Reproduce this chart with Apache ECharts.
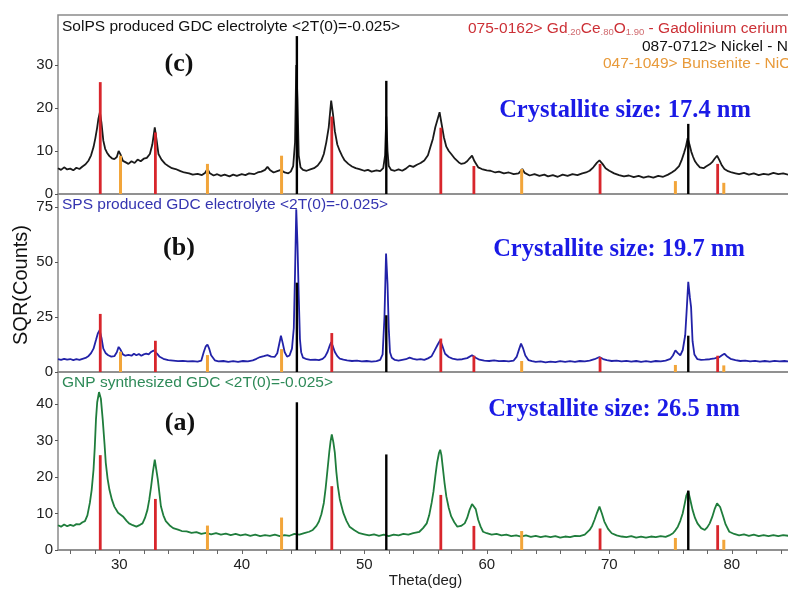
<!DOCTYPE html>
<html>
<head>
<meta charset="utf-8">
<script src="https://cdn.jsdelivr.net/npm/echarts@6/dist/echarts.min.js"></script>
<style>html,body{margin:0;padding:0;background:#fff}#chart{width:788px;height:589px}</style>
</head>
<body>
<div id="chart"></div>
<script>
// ---------- DATA ----------
const xTickLabels = [30, 40, 50, 60, 70, 80];
const xMinorTicks = [26,28,30,32,34,36,38,40,42,44,46,48,50,52,54,56,58,60,62,64,66,68,70,72,74,76,78,80,82,84];
const yTicksC = [0, 10, 20, 30];
const yTicksB = [0, 25, 50, 75];
const yTicksA = [0, 10, 20, 30, 40];

// (c) SolPS produced GDC electrolyte  [theta, sqrt(counts)]
const traceC = [
[25.0,6.0],[25.25,5.6],[25.5,6.2],[25.75,5.7],[26.0,5.9],[26.25,5.5],[26.5,6.1],[26.75,5.8],[27.0,6.4],[27.25,6.9],[27.5,7.8],[27.7,9.0],[27.9,10.9],[28.05,13.0],[28.2,15.5],[28.3,17.5],[28.42,19.0],[28.55,16.5],[28.7,12.4],[28.85,10.5],[29.0,9.6],[29.2,8.8],[29.4,8.3],[29.6,8.1],[29.8,8.6],[29.95,10.0],[30.1,9.2],[30.3,7.7],[30.5,7.4],[30.75,7.0],[31.0,7.6],[31.25,7.2],[31.5,8.0],[31.75,7.6],[32.0,8.2],[32.25,8.4],[32.5,9.3],[32.7,11.5],[32.9,15.5],[33.05,12.5],[33.2,9.3],[33.45,8.0],[33.75,7.0],[34.0,6.5],[34.3,6.0],[34.6,5.8],[35.0,5.3],[35.3,5.0],[35.7,4.8],[36.0,4.5],[36.4,4.7],[36.75,4.4],[37.0,4.9],[37.2,5.8],[37.4,4.8],[37.7,4.3],[38.0,4.6],[38.3,4.2],[38.6,4.5],[39.0,4.1],[39.3,4.5],[39.6,4.2],[40.0,4.6],[40.3,4.4],[40.6,4.8],[41.0,4.6],[41.3,5.0],[41.6,5.2],[41.9,5.6],[42.1,6.3],[42.3,5.6],[42.6,5.0],[42.9,5.3],[43.2,5.6],[43.5,5.0],[43.8,4.8],[44.0,5.2],[44.2,6.5],[44.35,12.0],[44.45,30.0],[44.55,22.0],[44.65,9.0],[44.8,6.2],[45.0,5.6],[45.3,5.4],[45.6,5.7],[45.9,6.0],[46.2,6.6],[46.5,7.8],[46.7,9.3],[46.9,12.0],[47.1,15.5],[47.3,21.7],[47.45,18.5],[47.6,14.6],[47.8,11.5],[48.0,10.0],[48.2,8.8],[48.4,7.8],[48.7,7.0],[49.0,6.4],[49.3,6.0],[49.6,5.8],[50.0,5.4],[50.3,5.6],[50.6,5.2],[51.0,5.5],[51.3,5.3],[51.55,6.0],[51.7,9.0],[51.8,18.0],[51.9,10.0],[52.0,6.5],[52.2,5.6],[52.5,5.4],[52.8,5.7],[53.1,5.4],[53.4,5.9],[53.7,6.6],[54.0,6.3],[54.3,6.8],[54.6,7.2],[54.9,7.8],[55.2,9.0],[55.4,10.9],[55.6,12.8],[55.8,15.5],[56.0,17.5],[56.15,19.0],[56.3,16.5],[56.5,13.2],[56.7,11.0],[56.9,10.0],[57.1,9.3],[57.4,8.2],[57.7,7.4],[57.9,7.0],[58.2,7.2],[58.4,7.6],[58.6,8.3],[58.8,8.9],[59.0,7.6],[59.3,6.2],[59.6,5.8],[60.0,5.5],[60.3,5.4],[60.7,5.0],[61.0,5.2],[61.4,4.8],[61.8,5.0],[62.2,4.6],[62.6,4.8],[62.9,5.8],[63.1,4.9],[63.5,4.3],[63.9,4.6],[64.3,4.2],[64.7,4.5],[65.0,4.1],[65.4,4.4],[65.8,4.0],[66.2,4.5],[66.6,4.2],[67.0,4.6],[67.4,4.4],[67.8,4.8],[68.1,5.0],[68.4,5.4],[68.7,6.2],[69.0,7.3],[69.2,7.8],[69.45,7.0],[69.7,6.0],[70.0,5.4],[70.4,4.8],[70.8,4.4],[71.2,4.1],[71.6,4.3],[72.0,3.9],[72.4,4.2],[72.8,3.8],[73.2,4.1],[73.6,3.8],[74.0,4.2],[74.4,4.0],[74.8,4.5],[75.1,5.0],[75.4,5.6],[75.7,6.5],[75.9,7.8],[76.1,9.5],[76.25,10.9],[76.4,13.0],[76.55,11.5],[76.7,9.8],[76.85,8.6],[77.0,7.6],[77.2,6.8],[77.4,6.2],[77.7,6.0],[77.9,6.4],[78.2,6.9],[78.4,7.4],[78.6,8.2],[78.8,8.9],[79.0,7.8],[79.2,6.6],[79.4,5.8],[79.7,5.3],[80.0,5.0],[80.3,4.8],[80.6,4.6],[81.0,4.9],[81.4,4.5],[81.8,4.8],[82.2,4.4],[82.6,4.7],[83.0,4.5],[83.4,4.9],[83.8,4.6],[84.2,4.8],[84.6,4.5]
];

// (b) SPS produced GDC electrolyte
const traceB = [
[25.0,5.8],[25.25,5.5],[25.5,6.0],[25.75,5.6],[26.0,5.9],[26.25,5.4],[26.5,5.8],[26.75,5.5],[27.0,6.0],[27.25,6.4],[27.5,7.3],[27.7,8.6],[27.9,10.6],[28.1,14.5],[28.25,17.5],[28.4,19.0],[28.55,15.5],[28.7,10.6],[28.9,8.5],[29.1,7.6],[29.35,7.0],[29.6,7.2],[29.8,9.0],[29.95,11.4],[30.1,10.2],[30.3,8.0],[30.5,7.4],[30.75,7.8],[31.0,7.4],[31.2,8.3],[31.4,7.6],[31.6,8.2],[31.8,7.4],[32.0,8.0],[32.2,8.3],[32.4,8.0],[32.6,9.1],[32.8,9.8],[32.95,10.0],[33.1,8.2],[33.3,6.9],[33.6,6.0],[34.0,5.4],[34.4,5.2],[34.8,4.9],[35.2,5.1],[35.6,4.8],[36.0,4.9],[36.4,4.7],[36.7,5.2],[36.9,9.1],[37.05,11.5],[37.2,12.5],[37.35,10.5],[37.5,7.6],[37.8,5.3],[38.1,4.8],[38.5,5.0],[38.9,4.6],[39.3,4.9],[39.7,4.6],[40.1,5.0],[40.5,4.8],[40.9,5.3],[41.2,6.0],[41.5,6.8],[41.8,7.2],[42.1,7.7],[42.4,7.0],[42.7,6.9],[42.9,8.5],[43.05,12.5],[43.2,16.5],[43.35,13.0],[43.5,9.1],[43.7,7.0],[43.9,7.5],[44.1,10.6],[44.25,20.0],[44.35,45.0],[44.45,74.0],[44.55,58.0],[44.65,35.0],[44.75,15.0],[44.85,9.0],[45.0,6.5],[45.3,5.8],[45.6,5.5],[46.0,5.6],[46.3,5.4],[46.6,6.0],[46.8,7.0],[47.0,9.1],[47.15,11.5],[47.3,13.6],[47.45,11.5],[47.6,9.1],[47.8,7.2],[48.0,6.1],[48.3,5.6],[48.6,5.3],[49.0,5.0],[49.4,5.2],[49.8,4.8],[50.2,5.0],[50.6,4.7],[51.0,4.9],[51.3,5.5],[51.5,8.0],[51.65,25.0],[51.78,53.8],[51.9,40.0],[52.0,20.0],[52.1,9.0],[52.25,6.5],[52.5,5.5],[52.8,5.2],[53.1,5.5],[53.4,5.8],[53.7,6.5],[54.0,6.0],[54.3,5.6],[54.6,5.9],[54.9,5.5],[55.2,6.2],[55.5,7.2],[55.75,9.8],[56.0,12.5],[56.2,14.4],[56.4,11.5],[56.6,8.3],[56.9,6.8],[57.2,6.1],[57.6,5.6],[58.0,5.8],[58.4,6.3],[58.8,7.6],[59.1,6.5],[59.4,5.6],[59.8,5.2],[60.2,5.0],[60.6,5.3],[61.0,4.9],[61.4,5.1],[61.8,4.8],[62.2,5.2],[62.45,7.0],[62.65,10.5],[62.8,12.9],[62.95,11.0],[63.15,7.5],[63.4,5.4],[63.7,4.9],[64.0,4.6],[64.4,4.8],[64.8,4.4],[65.2,4.7],[65.6,4.5],[66.0,4.9],[66.4,4.6],[66.8,4.9],[67.2,4.6],[67.6,5.0],[68.0,4.8],[68.4,5.2],[68.8,5.8],[69.2,6.8],[69.5,5.9],[69.8,5.4],[70.2,5.0],[70.6,5.2],[71.0,4.8],[71.4,5.1],[71.8,4.7],[72.2,5.0],[72.6,4.6],[73.0,4.9],[73.4,4.6],[73.8,5.0],[74.2,4.8],[74.6,5.2],[75.0,6.0],[75.2,7.5],[75.4,9.8],[75.6,8.6],[75.8,7.6],[76.0,10.0],[76.2,16.7],[76.32,28.0],[76.45,41.0],[76.58,34.0],[76.68,29.5],[76.8,14.0],[76.95,8.0],[77.2,5.8],[77.5,5.5],[77.8,5.6],[78.2,5.8],[78.6,6.2],[79.0,6.8],[79.2,7.6],[79.4,8.3],[79.6,7.2],[79.9,6.0],[80.3,5.4],[80.7,5.0],[81.1,5.2],[81.5,4.8],[81.9,5.1],[82.3,4.7],[82.7,5.0],[83.1,4.7],[83.5,5.1],[83.9,4.8],[84.3,5.0],[84.6,4.8]
];

// (a) GNP synthesized GDC
const traceA = [
[25.0,6.8],[25.25,6.4],[25.5,7.0],[25.75,6.5],[26.0,6.9],[26.25,6.6],[26.5,7.1],[26.75,7.0],[27.0,7.6],[27.2,7.9],[27.4,9.5],[27.6,12.9],[27.75,16.5],[27.9,22.0],[28.0,28.0],[28.1,35.8],[28.2,40.5],[28.35,43.3],[28.5,41.5],[28.65,35.8],[28.8,29.0],[28.9,23.9],[29.05,19.5],[29.2,16.5],[29.4,13.8],[29.6,11.9],[29.9,10.2],[30.3,9.2],[30.6,8.0],[30.8,7.3],[31.1,6.8],[31.4,6.4],[31.7,6.9],[31.9,7.3],[32.1,8.8],[32.3,11.0],[32.45,13.8],[32.6,17.4],[32.75,21.5],[32.9,24.8],[33.0,25.0],[33.15,19.3],[33.3,15.0],[33.4,12.0],[33.6,9.5],[33.8,7.9],[34.1,6.8],[34.4,6.0],[34.8,5.6],[35.1,5.2],[35.5,5.1],[35.9,4.7],[36.3,4.9],[36.7,4.4],[37.1,4.7],[37.5,4.3],[37.9,4.6],[38.3,4.2],[38.7,4.5],[39.1,4.1],[39.5,4.4],[39.9,4.0],[40.3,4.3],[40.7,3.9],[41.1,4.2],[41.5,3.8],[41.9,4.1],[42.3,3.9],[42.7,4.2],[43.1,3.8],[43.5,4.1],[43.9,3.9],[44.3,4.4],[44.7,4.2],[45.1,4.6],[45.5,5.0],[45.8,5.5],[46.1,6.6],[46.3,7.8],[46.5,9.8],[46.7,12.9],[46.85,17.0],[47.0,22.0],[47.15,27.0],[47.25,29.8],[47.35,31.7],[47.48,29.5],[47.6,26.6],[47.72,21.5],[47.85,17.4],[48.0,14.0],[48.15,12.0],[48.3,10.1],[48.55,8.0],[48.8,6.4],[49.2,5.4],[49.6,4.6],[50.0,4.3],[50.4,4.0],[50.8,4.3],[51.2,3.9],[51.6,4.2],[52.0,3.8],[52.4,4.2],[52.8,4.0],[53.2,4.4],[53.6,4.2],[54.0,4.6],[54.5,5.0],[54.8,6.0],[55.1,7.3],[55.3,9.5],[55.5,12.9],[55.65,16.0],[55.8,20.2],[55.95,24.0],[56.1,26.6],[56.2,27.5],[56.3,26.0],[56.4,23.0],[56.55,18.5],[56.7,14.7],[56.9,11.5],[57.1,9.2],[57.35,7.6],[57.6,6.4],[57.9,6.6],[58.2,7.3],[58.4,8.8],[58.6,11.0],[58.8,12.6],[58.95,12.9],[59.1,11.2],[59.3,8.3],[59.5,6.4],[59.7,5.0],[60.0,4.6],[60.4,4.2],[60.8,4.4],[61.2,4.0],[61.6,4.2],[62.0,3.8],[62.4,4.0],[62.8,3.7],[63.2,4.0],[63.6,3.6],[64.0,3.9],[64.4,3.5],[64.8,3.8],[65.2,3.5],[65.6,3.8],[66.0,3.4],[66.4,3.7],[66.8,3.5],[67.2,3.9],[67.6,3.8],[68.0,4.2],[68.4,5.5],[68.6,6.6],[68.8,8.3],[69.0,10.2],[69.2,11.9],[69.4,10.0],[69.6,7.8],[69.9,5.8],[70.2,4.6],[70.6,4.0],[71.0,3.7],[71.4,3.5],[71.8,3.8],[72.2,3.4],[72.6,3.7],[73.0,3.4],[73.4,3.7],[73.8,3.5],[74.2,3.8],[74.6,3.6],[74.9,4.0],[75.2,4.6],[75.4,5.4],[75.6,6.4],[75.8,8.0],[76.0,10.1],[76.15,12.5],[76.3,15.0],[76.45,16.1],[76.6,14.0],[76.8,11.0],[77.0,8.8],[77.2,7.3],[77.5,6.0],[77.8,5.5],[78.0,6.2],[78.2,7.3],[78.4,9.0],[78.6,11.2],[78.8,12.8],[78.9,13.0],[79.05,11.8],[79.3,9.2],[79.5,7.0],[79.8,5.0],[80.2,4.4],[80.6,4.0],[81.0,4.3],[81.4,3.9],[81.8,4.2],[82.2,3.8],[82.6,4.1],[83.0,3.8],[83.4,4.1],[83.8,3.8],[84.2,4.1],[84.6,3.9]
];

// Reference pattern stick positions (deg)
const gdcTheta = [28.45, 32.95, 47.35, 56.25, 58.95, 69.25, 78.85];
const niTheta  = [44.5, 51.8, 76.45];
const nioTheta = [30.1, 37.2, 43.25, 62.85, 75.4, 79.35];
// Stick heights per panel
const gdcHeightC = [26.0, 14.3, 18.0, 15.4, 6.5, 7.0, 7.0];
const niHeightC  = [36.7, 26.3, 16.3];
const nioHeightC = [8.9, 7.0, 8.9, 5.8, 3.0, 2.6];
const gdcHeightB = [26.4, 14.2, 17.7, 15.2, 7.4, 6.8, 7.4];
const niHeightB  = [40.6, 25.8, 16.5];
const nioHeightB = [9.2, 7.7, 10.4, 5.0, 3.2, 3.0];
const gdcHeightA = [26.0, 14.0, 17.5, 15.1, 6.6, 5.9, 6.8];
const niHeightA  = [40.5, 26.2, 16.3];
const nioHeightA = [0, 6.7, 8.9, 5.2, 3.3, 2.8];

// ---------- CHART ----------
const SANS = '"Liberation Sans", Arial, sans-serif';
const SERIF = '"Liberation Serif", "Times New Roman", serif';
const chart = echarts.init(document.getElementById('chart'), null, {renderer: 'canvas'});

const grids = [
  {top: 15, height: 179, max: 41.6, ticks: yTicksC},
  {top: 194, height: 178, max: 80.9, ticks: yTicksB},
  {top: 372, height: 178, max: 48.8, ticks: yTicksA}
];

function pairs(xs, hs) { return xs.map((x, i) => [x, hs[i]]).filter(p => p[1] > 0); }
function stickSeries(idx, xs, hs, color, w) {
  return {
    type: 'custom', xAxisIndex: idx, yAxisIndex: idx, z: 4, silent: true,
    data: pairs(xs, hs),
    renderItem: function (params, api) {
      const p0 = api.coord([api.value(0), 0]);
      const p1 = api.coord([api.value(0), api.value(1)]);
      return {type: 'rect', shape: {x: p0[0] - w / 2, y: p1[1], width: w, height: p0[1] - p1[1]}, style: {fill: color}};
    }
  };
}

const TXT = '15.5px ' + SANS;
const option = {
  animation: false,
  backgroundColor: '#fff',
  grid: grids.map(g => ({left: 58, width: 735, top: g.top, height: g.height, show: true,
    borderColor: '#8a8a8a', borderWidth: 1.5, backgroundColor: 'transparent', containLabel: false, outerBoundsMode: 'none'})),
  xAxis: grids.map((g, i) => ({
    type: 'value', gridIndex: i, min: 25, max: 85,
    splitLine: {show: false},
    axisLine: {show: i === 2, lineStyle: {color: '#8a8a8a', width: 1.5}},
    axisTick: {show: i === 2, customValues: xMinorTicks, length: 4, lineStyle: {color: '#666'}},
    axisLabel: {show: i === 2, customValues: xTickLabels, fontSize: 15, fontFamily: SANS, color: '#222', margin: 7},
    name: i === 2 ? 'Theta(deg)' : '', nameLocation: 'middle', nameGap: 23,
    nameTextStyle: {fontSize: 15, fontFamily: SANS, color: '#222'}
  })),
  yAxis: grids.map((g, i) => ({
    type: 'value', gridIndex: i, min: 0, max: g.max,
    splitLine: {show: false},
    axisLine: {show: false},
    axisTick: {show: true, customValues: g.ticks, length: 3, lineStyle: {color: '#555'}},
    axisLabel: {customValues: g.ticks, fontSize: 15, fontFamily: SANS, color: '#222', margin: 5}
  })),
  series: [
    {type: 'line', xAxisIndex: 0, yAxisIndex: 0, data: traceC, showSymbol: false, z: 2, lineStyle: {color: '#1a1a1a', width: 1.8}},
    {type: 'line', xAxisIndex: 1, yAxisIndex: 1, data: traceB, showSymbol: false, z: 2, lineStyle: {color: '#2222a8', width: 1.8}},
    {type: 'line', xAxisIndex: 2, yAxisIndex: 2, data: traceA, showSymbol: false, z: 2, lineStyle: {color: '#1f7d3c', width: 1.8}},
    stickSeries(0, gdcTheta, gdcHeightC, '#d8262c', 2.8),
    stickSeries(0, niTheta, niHeightC, '#000000', 2.4),
    stickSeries(0, nioTheta, nioHeightC, '#f2a53a', 3),
    stickSeries(1, gdcTheta, gdcHeightB, '#d8262c', 2.8),
    stickSeries(1, niTheta, niHeightB, '#000000', 2.4),
    stickSeries(1, nioTheta, nioHeightB, '#f2a53a', 3),
    stickSeries(2, gdcTheta, gdcHeightA, '#d8262c', 2.8),
    stickSeries(2, niTheta, niHeightA, '#000000', 2.4),
    stickSeries(2, nioTheta, nioHeightA, '#f2a53a', 3)
  ],
  graphic: [
    {type: 'text', x: 62, y: 27, z: 10, style: {text: 'SolPS produced GDC electrolyte <2T(0)=-0.025>', font: TXT, fill: '#111', textVerticalAlign: 'middle'}},
    {type: 'text', x: 62, y: 205, z: 10, style: {text: 'SPS produced GDC electrolyte <2T(0)=-0.025>', font: TXT, fill: '#3434b0', textVerticalAlign: 'middle'}},
    {type: 'text', x: 62, y: 383, z: 10, style: {text: 'GNP synthesized GDC <2T(0)=-0.025>', font: TXT, fill: '#2e8a58', textVerticalAlign: 'middle'}},
    {type: 'text', x: 468, y: 29, z: 10, style: {text: '075-0162> Gd{s|.20}Ce{s|.80}O{s|1.90} - Gadolinium cerium oxide', font: TXT, fill: '#cc3036', textVerticalAlign: 'middle',
      rich: {s: {fontSize: 9.5, fontFamily: SANS, fill: '#d06a6e', verticalAlign: 'bottom'}}}},
    {type: 'text', x: 642, y: 47, z: 10, style: {text: '087-0712> Nickel - Ni', font: TXT, fill: '#111', textVerticalAlign: 'middle'}},
    {type: 'text', x: 603, y: 64, z: 10, style: {text: '047-1049> Bunsenite - NiO', font: TXT, fill: '#e89a3a', textVerticalAlign: 'middle'}},
    {type: 'text', x: 179, y: 64, z: 10, style: {text: '(c)', font: 'bold 26px ' + SERIF, fill: '#111', textAlign: 'center', textVerticalAlign: 'middle'}},
    {type: 'text', x: 179, y: 248, z: 10, style: {text: '(b)', font: 'bold 26px ' + SERIF, fill: '#111', textAlign: 'center', textVerticalAlign: 'middle'}},
    {type: 'text', x: 180, y: 423, z: 10, style: {text: '(a)', font: 'bold 26px ' + SERIF, fill: '#111', textAlign: 'center', textVerticalAlign: 'middle'}},
    {type: 'text', x: 625, y: 111, z: 10, style: {text: 'Crystallite size: 17.4 nm', font: 'bold 24.5px ' + SERIF, fill: '#1a1ae6', textAlign: 'center', textVerticalAlign: 'middle'}},
    {type: 'text', x: 619, y: 250, z: 10, style: {text: 'Crystallite size: 19.7 nm', font: 'bold 24.5px ' + SERIF, fill: '#1a1ae6', textAlign: 'center', textVerticalAlign: 'middle'}},
    {type: 'text', x: 614, y: 410, z: 10, style: {text: 'Crystallite size: 26.5 nm', font: 'bold 24.5px ' + SERIF, fill: '#1a1ae6', textAlign: 'center', textVerticalAlign: 'middle'}},
    {type: 'text', x: 21, y: 285, rotation: Math.PI / 2, z: 10, style: {text: 'SQR(Counts)', font: '20px ' + SANS, fill: '#111', textAlign: 'center', textVerticalAlign: 'middle'}}
  ]
};
chart.setOption(option);
</script>
</body>
</html>
